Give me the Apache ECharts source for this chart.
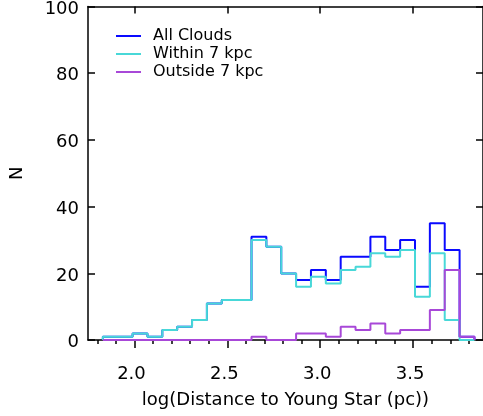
<!DOCTYPE html>
<html><head><meta charset="utf-8">
<script src="https://cdn.jsdelivr.net/npm/echarts@6/dist/echarts.min.js"></script>
<style>html,body{margin:0;padding:0;background:#fff}#c{width:483px;height:416px}</style>
</head><body><div id="c"></div>
<script>
const binStart = 1.83;
const binWidth = 0.08;
const allClouds = [1,1,2,1,3,4,6,11,12,12,31,28,20,18,21,18,25,25,31,27,30,16,35,27,1];
const within7   = [1,1,2,1,3,4,6,11,12,12,30,28,20,16,19,17,21,22,26,25,27,13,26,6,0];
const outside7  = [0,0,0,0,0,0,0,0,0,0,1,0,0,2,2,1,4,3,5,2,3,3,9,21,1];
const xMajorTicks = [2.0,2.5,3.0,3.5];
const xMinorTicks = [1.8,1.9,2.1,2.2,2.3,2.4,2.6,2.7,2.8,2.9,3.1,3.2,3.3,3.4,3.6,3.7,3.8];
const seriesNames = ['All Clouds','Within 7 kpc','Outside 7 kpc'];
const seriesColors = ['#0a0aff','#48d8d8','#a848d8'];

function steps(counts){
  const r = v => +v.toFixed(4);
  const pts = [[binStart,0]];
  counts.forEach((c,i)=>{
    const a = binStart + i*binWidth;
    pts.push([r(a),c],[r(a+binWidth),c]);
  });
  pts.push([r(binStart+counts.length*binWidth),0]);
  return pts;
}

const FONT = 'DejaVu Sans';
const black = '#000';
const axisLineStyle = {color:black, width:1.5};
const xMin = 1.75, xMax = 3.876;

const chart = echarts.init(document.getElementById('c'), null, {renderer:'canvas'});
chart.setOption({
  animation:false,
  backgroundColor:'#fff',
  grid:{left:88, top:4, width:397, height:337},
  legend:{
    orient:'vertical', left:116, top:27, padding:0, itemWidth:25, itemHeight:2, itemGap:0,
    icon:'rect', data:seriesNames,
    textStyle:{fontFamily:FONT, fontSize:16, color:black, lineHeight:18, padding:[0,0,0,7]}
  },
  xAxis:[
    {type:'value', position:'bottom', min:xMin, max:xMax,
     axisLine:{show:true, onZero:false, lineStyle:axisLineStyle},
     axisTick:{show:true, inside:false, length:8, customValues:xMajorTicks, lineStyle:axisLineStyle},
     axisLabel:{customValues:xMajorTicks, formatter:v=>v.toFixed(1), margin:24, fontFamily:FONT, fontSize:18, color:black, lineHeight:20, padding:[0,6,0,0]},
     splitLine:{show:false},
     name:'log(Distance to Young Star (pc))', nameLocation:'middle', nameGap:46,
     nameTextStyle:{fontFamily:FONT, fontSize:18, color:black, lineHeight:22}
    },
    {type:'value', position:'bottom', min:xMin, max:xMax,
     axisLine:{show:false},
     axisTick:{show:true, inside:false, length:4, customValues:xMinorTicks, lineStyle:axisLineStyle},
     axisLabel:{show:false}, splitLine:{show:false}
    },
    {type:'value', position:'top', min:xMin, max:xMax,
     axisLine:{show:true, onZero:false, lineStyle:axisLineStyle},
     axisTick:{show:true, inside:true, length:7, customValues:xMajorTicks, lineStyle:axisLineStyle},
     axisLabel:{show:false}, splitLine:{show:false}
    }
  ],
  yAxis:[
    {type:'value', position:'left', min:0, max:100, interval:20,
     axisLine:{show:true, onZero:false, lineStyle:axisLineStyle},
     axisTick:{show:true, inside:true, length:7, lineStyle:axisLineStyle},
     axisLabel:{margin:9, fontFamily:FONT, fontSize:18, color:black, verticalAlign:'top', lineHeight:5},
     splitLine:{show:false},
     name:'N', nameLocation:'middle', nameGap:62, nameRotate:90,
     nameTextStyle:{fontFamily:FONT, fontSize:18, color:black}
    },
    {type:'value', position:'right', min:0, max:100, interval:20,
     axisLine:{show:true, onZero:false, lineStyle:axisLineStyle},
     axisTick:{show:true, inside:true, length:7, lineStyle:axisLineStyle},
     axisLabel:{show:false}, splitLine:{show:false}
    }
  ],
  series:[allClouds, within7, outside7].map((d,i)=>({
    type:'line', name:seriesNames[i], data:steps(d),
    xAxisIndex:0, yAxisIndex:0, symbol:'none', showSymbol:false,
    lineStyle:{color:seriesColors[i], width:2},
    itemStyle:{color:seriesColors[i]},
    z:2+i
  }))
});
</script>
</body></html>
